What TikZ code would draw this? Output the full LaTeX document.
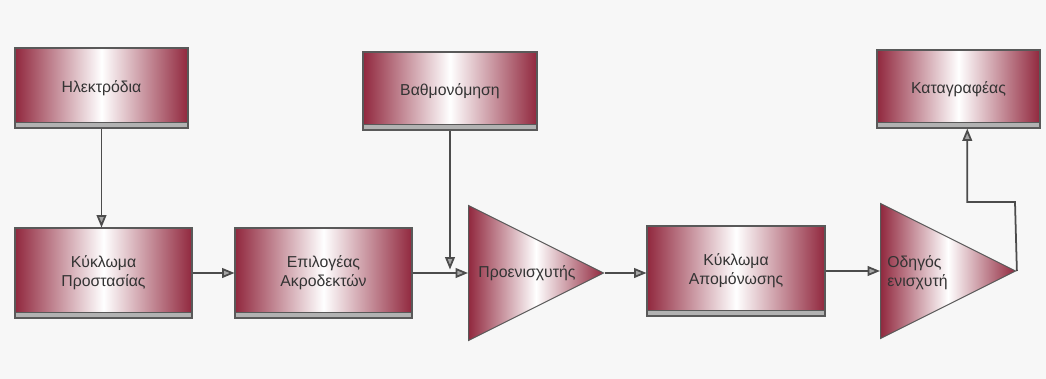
\documentclass[tikz,border=0pt]{standalone}
\usepackage{fontspec}
\setmainfont{Liberation Sans}
\usepackage{tikz}
\usetikzlibrary{arrows.meta, shapes.geometric}
\definecolor{maroon}{RGB}{145,40,62}
\tikzset{block/.style = {shape = rectangle, draw = black!65, line width = 0.6pt,
    left color = maroon, right color = maroon, middle color = white,
    text = black!80, align = center, font = \fontsize{9}{11}\selectfont,
    path picture = {\fill[black!30] (path picture bounding box.south west)
      rectangle ([yshift=3pt]path picture bounding box.south east);
      \draw[black!65] ([yshift=3pt]path picture bounding box.south west)
      -- ([yshift=3pt]path picture bounding box.south east);}}}
\tikzset{amp/.style = {isosceles triangle, isosceles triangle stretches,
    shape border rotate = 0, inner sep = 0pt, draw = black!65, line width = 0.6pt,
    left color = maroon, right color = maroon, middle color = white,
    minimum width = 2.7cm, minimum height = 2.7cm, anchor = west}}
\tikzset{label/.style = {text = black!80, font = \fontsize{9}{11}\selectfont, inner sep = 0pt}}
\tikzset{edge/.style = {draw = black!70, line width = 1pt,
    -{Triangle[length = 7pt, width = 5.5pt, fill = black!35]}}}

\begin{document}
\begin{tikzpicture}[x = 0.02cm, y = -0.02cm]
	\fill[black!3] (0,0) rectangle (1046,379);
	\useasboundingbox (0,0) rectangle (1046,379);

	\node[block, minimum width = 3.46cm, minimum height = 1.6cm] (elec) at (101.5, 88) {Ηλεκτρόδια};
	\node[block, minimum width = 3.54cm, minimum height = 1.8cm] (prot) at (103.5, 273) {Κύκλωμα\\Προστασίας};
	\node[block, minimum width = 3.54cm, minimum height = 1.8cm] (sel) at (323.5, 273) {Επιλογέας\\Ακροδεκτών};
	\node[block, minimum width = 3.48cm, minimum height = 1.56cm] (calib) at (450, 91) {Βαθμονόμηση};
	\node[amp] (pre) at (468, 273) {};
	\node[label] (preText) at (527, 273) {Προενισχυτής};
	\node[block, minimum width = 3.56cm, minimum height = 1.8cm] (iso) at (736, 271) {Κύκλωμα\\Απομόνωσης};
	\node[amp] (drv) at (880, 271) {};
	\node[label, anchor = west, align = left] (drvText) at (887, 273) {Οδηγός\\ενισχυτή};
	\node[block, minimum width = 3.26cm, minimum height = 1.56cm] (rec) at (958.5, 89) {Καταγραφέας};
	\coordinate (bend) at (1015, 202);

	\draw[edge] (elec.south) to (elec.south |- prot.north);
	\draw[edge] (prot) to (sel);
	\draw[edge] (sel.east) to (pre.west);
	\draw[edge] (calib.south) to ([yshift = 2pt]calib.south |- pre.west);
	\draw[edge] (pre.east) to (pre.east -| iso.west);
	\draw[edge] (iso.east) to (drv.west);
	\draw[edge] (drv.east) -- (bend) -| ([xshift = 5pt]rec.south);
\end{tikzpicture}
\end{document}
